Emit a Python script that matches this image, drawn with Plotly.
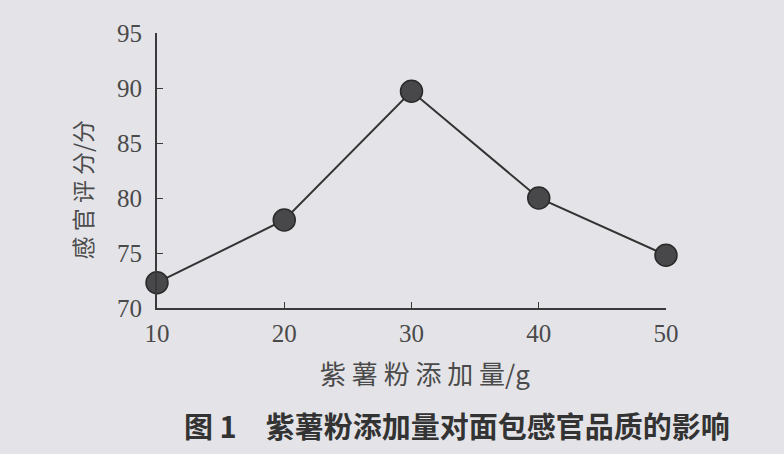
import plotly.graph_objects as go

# 紫薯粉添加量 (g) vs 感官评分 (分)
amounts = [10, 20, 30, 40, 50]
scores = [72.3, 78.0, 89.7, 80.0, 74.8]
x_ticks = [10, 20, 30, 40, 50]
y_ticks = [70, 75, 80, 85, 90, 95]

paper_bg = "#e4e4e8"
ink = "#3a3a3a"
serif = "Liberation Serif, DejaVu Serif, serif"
cjk = "Noto Sans CJK SC"

fig = go.Figure()
fig.add_trace(go.Scatter(
    x=amounts,
    y=scores,
    mode="lines+markers",
    line=dict(color="#333333", width=2),
    marker=dict(size=22, color="#48484a", line=dict(color="#2a2a2a", width=1.5)),
    cliponaxis=False,
    showlegend=False,
))

axis_common = dict(
    ticks="inside",
    ticklen=6,
    tickcolor=ink,
    showline=True,
    linecolor=ink,
    linewidth=2,
    showgrid=False,
    zeroline=False,
    tickfont=dict(family=serif, size=25, color="#4a4a4a"),
)

fig.update_layout(
    width=784,
    height=454,
    paper_bgcolor=paper_bg,
    plot_bgcolor=paper_bg,
    margin=dict(l=157, r=118, t=33, b=146),
    xaxis=dict(range=[10, 50], tickvals=x_ticks, ticklabelstandoff=2, **axis_common),
    yaxis=dict(range=[70, 95], tickvals=y_ticks, ticklabelstandoff=8, **axis_common),
    annotations=[
        dict(
            text="感 官 评 分/分",
            xref="paper", yref="paper", x=-0.148, y=0.43,
            xanchor="center", yanchor="middle", textangle=-90,
            showarrow=False,
            font=dict(family=cjk, size=23, color="#4a4a4a"),
        ),
        dict(
            text="紫 薯 粉 添 加 量/g",
            xref="paper", yref="paper", x=0.527, y=-0.233,
            xanchor="center", yanchor="middle",
            showarrow=False,
            font=dict(family=cjk, size=26, color="#4a4a4a"),
        ),
        dict(
            text="<b>图 1　紫薯粉添加量对面包感官品质的影响</b>",
            xref="paper", yref="paper", x=0.589, y=-0.425,
            xanchor="center", yanchor="middle",
            showarrow=False,
            font=dict(family=cjk, size=29, color="#333333"),
        ),
    ],
)

fig.write_html(
    "out.html",
    config={"displayModeBar": False},
    post_script="document.body.style.margin='0';",
)
